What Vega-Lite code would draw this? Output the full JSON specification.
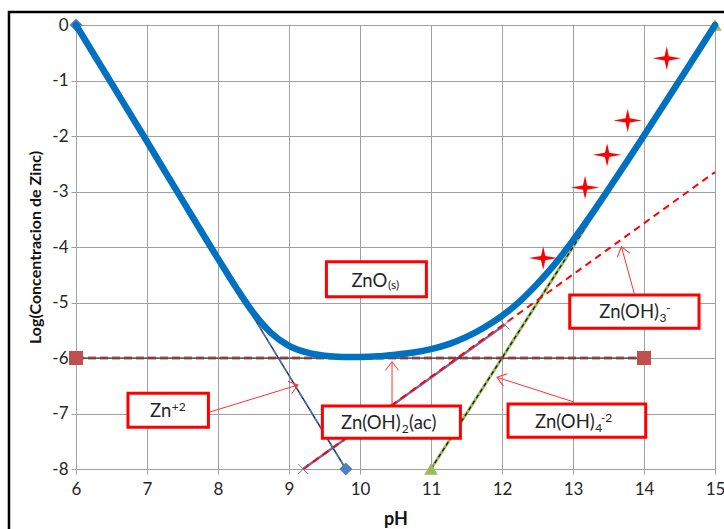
{
  "$schema": "https://vega.github.io/schema/vega-lite/v6.json",
  "width": 639,
  "height": 444,
  "autosize": {"type": "none"},
  "padding": {"left": 76, "top": 25, "right": 9, "bottom": 60},
  "background": "white",
  "config": {
    "view": {"stroke": null},
    "font": "Lato",
    "axis": {
      "labelFont": "Lato",
      "labelFontSize": 17,
      "labelColor": "#262626",
      "labelFlush": false,
      "labelOverlap": false,
      "titleFont": "Lato",
      "titleFontWeight": "bold",
      "titleColor": "#111111",
      "gridColor": "#a0a0a0",
      "gridWidth": 1,
      "tickColor": "#a0a0a0",
      "tickSize": 5,
      "domain": false
    }
  },
  "datasets": {
    "frame": [{"pH": 5.056, "logC": 0.234, "pH2": 16, "logC2": -10}],
    "total": [
      {"pH": 6, "logC": 0}, {"pH": 6.5, "logC": -1.05}, {"pH": 7, "logC": -2.1},
      {"pH": 7.5, "logC": -3.16}, {"pH": 8, "logC": -4.21}, {"pH": 8.25, "logC": -4.72},
      {"pH": 8.5, "logC": -5.19}, {"pH": 8.75, "logC": -5.55}, {"pH": 9, "logC": -5.78},
      {"pH": 9.25, "logC": -5.9}, {"pH": 9.5, "logC": -5.96}, {"pH": 9.75, "logC": -5.98},
      {"pH": 10, "logC": -5.98}, {"pH": 10.25, "logC": -5.97}, {"pH": 10.5, "logC": -5.94},
      {"pH": 10.75, "logC": -5.9}, {"pH": 11, "logC": -5.84}, {"pH": 11.25, "logC": -5.75},
      {"pH": 11.5, "logC": -5.62}, {"pH": 11.75, "logC": -5.45}, {"pH": 12, "logC": -5.24},
      {"pH": 12.25, "logC": -4.98}, {"pH": 12.5, "logC": -4.66}, {"pH": 12.75, "logC": -4.3},
      {"pH": 13, "logC": -3.88}, {"pH": 13.25, "logC": -3.43}, {"pH": 13.5, "logC": -2.96},
      {"pH": 13.75, "logC": -2.48}, {"pH": 14, "logC": -1.99}, {"pH": 14.5, "logC": -1.0},
      {"pH": 15, "logC": 0}
    ],
    "zn2": [{"pH": 6, "logC": 0}, {"pH": 9.8, "logC": -8}],
    "znoh2": [{"pH": 6, "logC": -6}, {"pH": 14, "logC": -6}],
    "znoh3": [{"pH": 9.2, "logC": -8}, {"pH": 12.04, "logC": -5.4}],
    "znoh3ext": [{"pH": 9.2, "logC": -8}, {"pH": 15, "logC": -2.65}],
    "znoh4": [{"pH": 11, "logC": -8}, {"pH": 15, "logC": 0}],
    "stars": [
      {"pH": 12.58, "logC": -4.2}, {"pH": 13.17, "logC": -2.93}, {"pH": 13.48, "logC": -2.34},
      {"pH": 13.77, "logC": -1.72}, {"pH": 14.32, "logC": -0.6}
    ],
    "arrows": [
      {"pH": 7.873, "logC": -6.978, "pH2": 9.127, "logC2": -6.486},
      {"pH": 10.451, "logC": -6.865, "pH2": 10.451, "logC2": -6.067},
      {"pH": 13.0, "logC": -6.787, "pH2": 11.93, "logC2": -6.348},
      {"pH": 13.869, "logC": -4.865, "pH2": 13.682, "logC2": -3.995}
    ],
    "heads": [
      {"pH": 9.127, "logC": -6.486, "ang": 342.95},
      {"pH": 10.451, "logC": -6.067, "ang": 270},
      {"pH": 11.93, "logC": -6.348, "ang": 197.8},
      {"pH": 13.682, "logC": -3.995, "ang": 254.6}
    ],
    "boxes": [
      {"pH": 9.527, "logC": -4.265, "pH2": 10.935, "logC2": -4.895},
      {"pH": 6.732, "logC": -6.636, "pH2": 7.865, "logC2": -7.249},
      {"pH": 9.47, "logC": -6.865, "pH2": 11.414, "logC2": -7.447},
      {"pH": 12.085, "logC": -6.829, "pH2": 14.024, "logC2": -7.429},
      {"pH": 12.954, "logC": -4.865, "pH2": 14.775, "logC2": -5.465}
    ],
    "mainText": [
      {"pH": 10.383, "logC": -4.712, "label": "ZnO"},
      {"pH": 7.341, "logC": -7.068, "label": "Zn"},
      {"pH": 10.573, "logC": -7.288, "label": "Zn(OH)"},
      {"pH": 11.075, "logC": -7.288, "label": "(ac)"},
      {"pH": 13.306, "logC": -7.267, "label": "Zn(OH)"},
      {"pH": 14.211, "logC": -5.285, "label": "Zn(OH)"}
    ],
    "subText": [
      {"pH": 10.396, "logC": -4.748, "label": "(s)"},
      {"pH": 10.587, "logC": -7.351, "label": "2"},
      {"pH": 13.313, "logC": -7.333, "label": "4"},
      {"pH": 14.218, "logC": -5.351, "label": "3"}
    ],
    "supText": [
      {"pH": 7.348, "logC": -6.946, "label": "+2"},
      {"pH": 13.39, "logC": -7.153, "label": "-2"},
      {"pH": 14.313, "logC": -5.171, "label": "-"}
    ]
  },
  "encoding": {
    "x": {
      "field": "pH", "type": "quantitative",
      "scale": {"domain": [6, 15], "nice": false, "zero": false},
      "axis": {"title": "pH", "values": [6, 7, 8, 9, 10, 11, 12, 13, 14, 15], "labelExpr": "datum.value + ''", "labelPadding": 7, "titleFontSize": 18, "titlePadding": 13}
    },
    "y": {
      "field": "logC", "type": "quantitative",
      "scale": {"domain": [-8, 0], "nice": false, "zero": false},
      "axis": {"title": "Log(Concentracion de Zinc)", "values": [-8, -7, -6, -5, -4, -3, -2, -1, 0], "labelExpr": "datum.value + ''", "labelPadding": 3, "titleFontSize": 16, "titlePadding": 8}
    }
  },
  "layer": [
    {"data": {"name": "frame"}, "mark": {"type": "rect", "fill": null, "fillOpacity": 0, "stroke": "#000000", "strokeWidth": 2.5, "clip": false},
     "encoding": {"x2": {"field": "pH2"}, "y2": {"field": "logC2"}}},
    {"data": {"name": "znoh4"}, "mark": {"type": "line", "color": "#9BBB59", "strokeWidth": 3}},
    {"data": {"name": "znoh4"}, "mark": {"type": "line", "color": "#1a1a1a", "strokeWidth": 1.3, "strokeDash": [4, 3]}},
    {"data": {"name": "znoh3"}, "mark": {"type": "line", "color": "#8064A2", "strokeWidth": 2.5}},
    {"data": {"name": "znoh3ext"}, "mark": {"type": "line", "color": "#FF0000", "strokeWidth": 2, "strokeDash": [7, 5]}},
    {"data": {"name": "znoh2"}, "mark": {"type": "line", "color": "#1a1a1a", "strokeWidth": 1}},
    {"data": {"name": "znoh2"}, "mark": {"type": "line", "color": "#8B3030", "strokeWidth": 3, "strokeDash": [8, 4], "opacity": 0.75}},
    {"data": {"name": "zn2"}, "mark": {"type": "line", "color": "#1F3864", "strokeWidth": 1.5}},
    {"data": {"name": "zn2"}, "mark": {"type": "line", "color": "#4F81BD", "strokeWidth": 1.5, "strokeDash": [6, 4], "opacity": 0.8}},
    {"data": {"name": "zn2"}, "mark": {"type": "point", "shape": "diamond", "filled": true, "color": "#4F81BD", "size": 169, "opacity": 1}},
    {"data": {"name": "znoh2"}, "mark": {"type": "point", "shape": "square", "filled": true, "color": "#C0504D", "size": 196, "opacity": 1}},
    {"data": {"name": "znoh4"}, "mark": {"type": "point", "shape": "triangle-up", "filled": true, "color": "#9BBB59", "size": 180, "opacity": 1}},
    {"data": {"name": "znoh3"}, "mark": {"type": "point", "shape": "M-1,-1L1,1M-1,1L1,-1", "filled": false, "color": "#8064A2", "size": 100, "strokeWidth": 1, "opacity": 1}},
    {"data": {"name": "total"}, "mark": {"type": "line", "color": "#0070C0", "strokeWidth": 6.5, "interpolate": "monotone", "strokeCap": "round", "clip": false}},
    {"data": {"name": "stars"}, "mark": {"type": "point", "shape": "M0,-0.82L0.15,-0.15L1,0L0.15,0.15L0,0.82L-0.15,0.15L-1,0L-0.15,-0.15Z", "filled": true, "color": "#FF0000", "size": 820, "opacity": 1}},
    {"data": {"name": "arrows"}, "mark": {"type": "rule", "color": "#FF3030", "strokeWidth": 1},
     "encoding": {"x2": {"field": "pH2"}, "y2": {"field": "logC2"}}},
    {"data": {"name": "heads"}, "mark": {"type": "point", "shape": "M-1,-0.75L0,0L-1,0.75", "filled": false, "color": "#FF3030", "size": 300, "strokeWidth": 1, "opacity": 1},
     "encoding": {"angle": {"field": "ang", "type": "quantitative", "scale": null}}},
    {"data": {"name": "boxes"}, "mark": {"type": "rect", "fill": "#ffffff", "stroke": "#FF0000", "strokeWidth": 3},
     "encoding": {"x2": {"field": "pH2"}, "y2": {"field": "logC2"}}},
    {"data": {"name": "mainText"}, "mark": {"type": "text", "align": "right", "baseline": "alphabetic", "fontSize": 18.5, "font": "Lato", "color": "#262626"},
     "encoding": {"text": {"field": "label"}}},
    {"data": {"name": "subText"}, "mark": {"type": "text", "align": "left", "baseline": "alphabetic", "fontSize": 12, "font": "Lato", "color": "#262626"},
     "encoding": {"text": {"field": "label"}}},
    {"data": {"name": "supText"}, "mark": {"type": "text", "align": "left", "baseline": "alphabetic", "fontSize": 12, "font": "Lato", "color": "#262626"},
     "encoding": {"text": {"field": "label"}}}
  ]
}
